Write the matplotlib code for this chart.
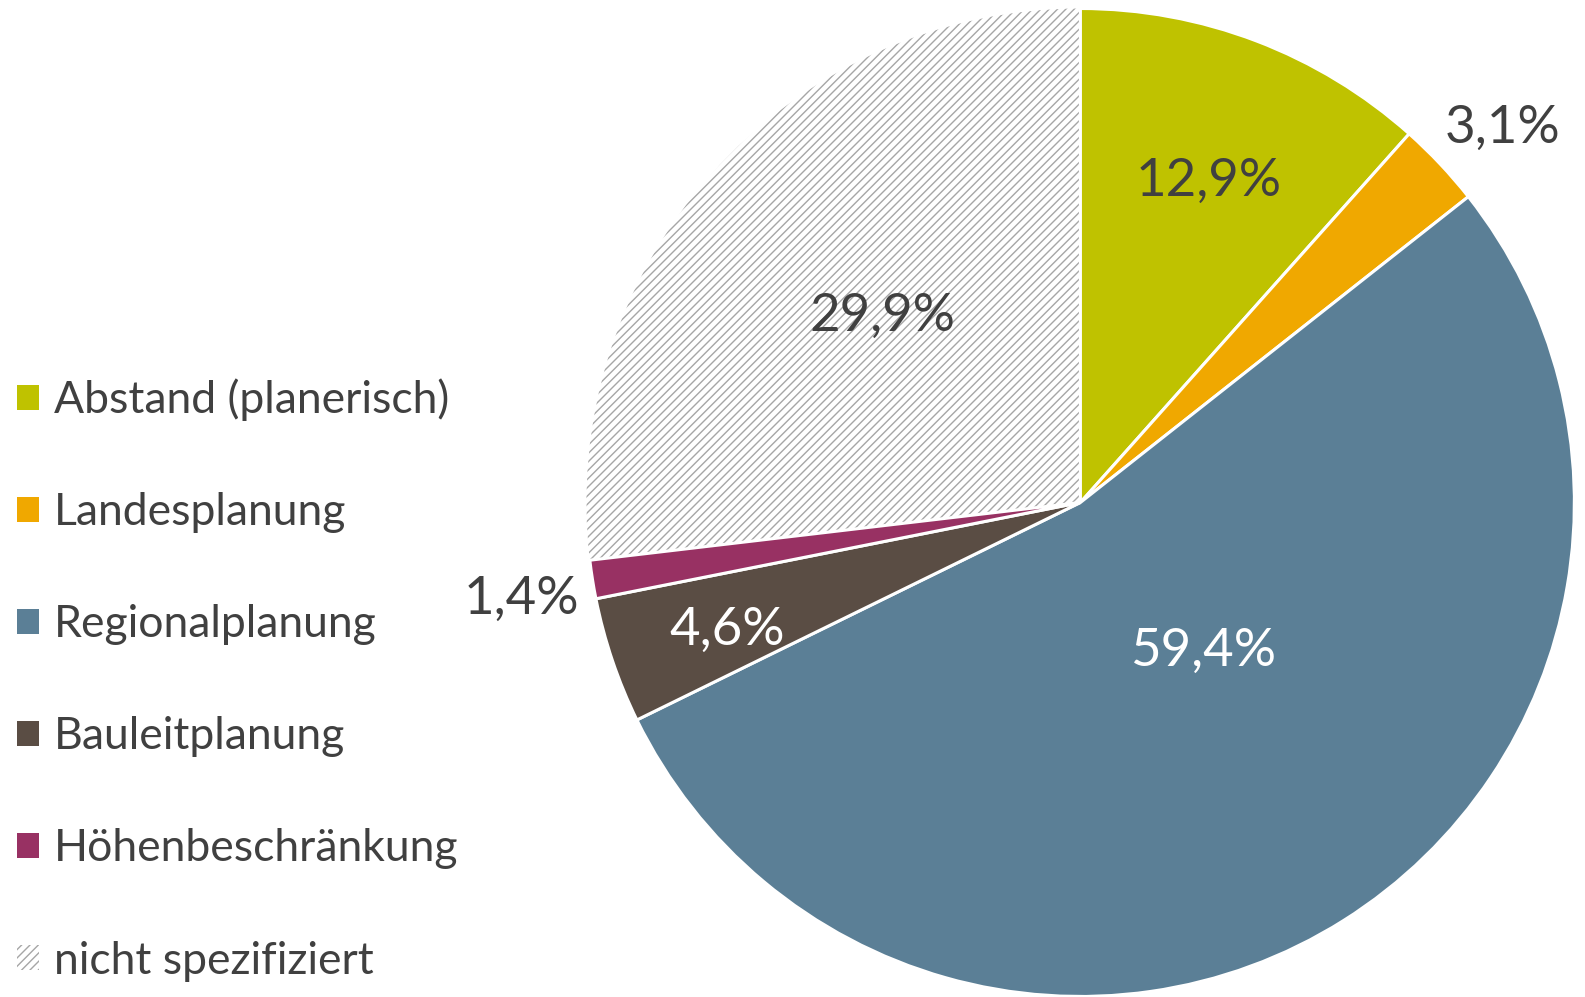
import numpy as np
import matplotlib.pyplot as plt
import matplotlib as mpl

# Daten
categories = ["Abstand (planerisch)", "Landesplanung", "Regionalplanung",
              "Bauleitplanung", "Höhenbeschränkung", "nicht spezifiziert"]
values = [12.9, 3.1, 59.4, 4.6, 1.4, 29.9]
value_labels = ["12,9%", "3,1%", "59,4%", "4,6%", "1,4%", "29,9%"]

colors = ["#BFC200", "#F0A800", "#5B7F96", "#5A4D44", "#983163", "white"]
label_colors = ["#404040", "#404040", "white", "white", "#404040", "#404040"]
# Abstand vom Mittelpunkt und Winkelversatz (Grad) der Beschriftungen
label_dist = [0.70, 1.143, 0.39, 0.76, 1.148, 0.55]
label_rot = [-1.0, -1.7, 7.3, 1.3, 0.9, -1.6]

text_color = "#404040"
mpl.rcParams['font.family'] = ['Lato', 'DejaVu Sans']
mpl.rcParams['hatch.linewidth'] = 1.0

fig = plt.figure(figsize=(15.85, 9.97), dpi=100)
ax = fig.add_axes([0.370, 0.0005, 0.6233, 0.991])

wedges, texts = ax.pie(values, colors=colors, startangle=90, counterclock=False,
                       radius=1.0, labels=value_labels, labeldistance=0.7,
                       wedgeprops=dict(edgecolor="white", linewidth=2.2))

# schraffiertes Segment
hatched = wedges[-1]
hatched.set_hatch("////")
hatched.set_edgecolor("#A6A6A6")
hatched.set_linewidth(0)
hatched.set_zorder(0.5)

for w, t, d, r, c in zip(wedges, texts, label_dist, label_rot, label_colors):
    ang = np.deg2rad((w.theta1 + w.theta2) / 2 + r)
    t.set_position((d * np.cos(ang), d * np.sin(ang)))
    t.set_ha("center")
    t.set_va("center")
    t.set_color(c)
    t.set_fontsize(38)

ax.set_xlim(-1, 1)
ax.set_ylim(-1, 1)
ax.set_aspect("equal")
ax.axis("off")

leg = fig.legend(wedges, categories, loc="center left", bbox_to_anchor=(0.0107, 0.318),
                 frameon=False, fontsize=32, labelcolor=text_color,
                 handlelength=0.5, handleheight=0.5, handletextpad=0.33,
                 labelspacing=1.60, borderpad=0, borderaxespad=0)
for h in leg.legend_handles:
    h.set_linewidth(0)

fig.savefig("out.png", dpi=100)
